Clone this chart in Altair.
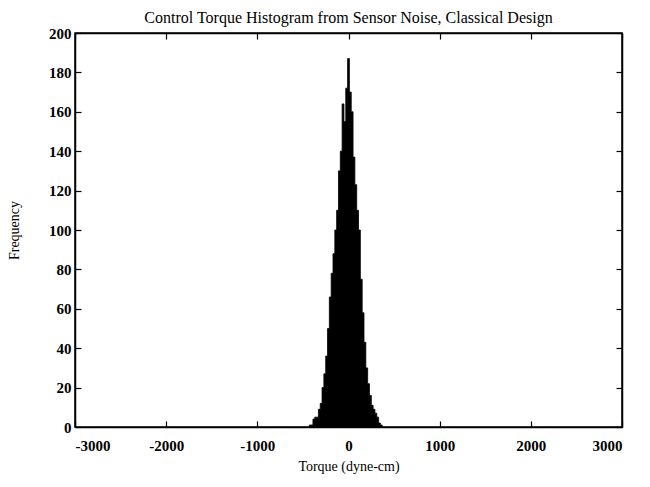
import altair as alt
import pandas as pd

# Histogram bins (torque, dyne-cm): bin starts, bin ends and counts
bin_start = [-430, -410, -390, -370, -350, -330, -310, -290, -270, -250,
             -230, -210, -190, -170, -150, -130, -110, -90, -70, -50,
             -30, -10, 10, 30, 50, 70, 90, 110, 130, 150,
             170, 190, 210, 230, 250, 270, 290, 310, 330, 350]
bin_end = [-410, -390, -370, -350, -330, -310, -290, -270, -250, -230,
           -210, -190, -170, -150, -130, -110, -90, -70, -50, -30,
           -10, 10, 30, 50, 70, 90, 110, 130, 150, 170,
           190, 210, 230, 250, 270, 290, 310, 330, 350, 370]
counts = [1, 1, 4, 5, 5, 9, 12, 20, 27, 36,
          50, 66, 78, 88, 100, 110, 130, 140, 164, 155,
          172, 187, 170, 160, 137, 123, 110, 100, 75, 58,
          43, 30, 22, 16, 11, 9, 7, 5, 2, 1]

x_ticks = [-3000, -2000, -1000, 0, 1000, 2000, 3000]
y_ticks = [0, 20, 40, 60, 80, 100, 120, 140, 160, 180, 200]

# step outline of the histogram: each bin start with its count, closed at the last bin end
step_x = bin_start + [bin_end[-1]]
step_y = counts + [0]
df = pd.DataFrame({"torque": step_x, "count": step_y})

FONT = "Liberation Serif"

x_scale = alt.Scale(domain=[-3000, 3000], nice=False, zero=False)
y_scale = alt.Scale(domain=[0, 200], nice=False)

hist = alt.Chart(df).mark_area(
    interpolate="step-after", color="black", stroke="black", strokeWidth=0.8
).encode(
    x=alt.X("torque:Q", scale=x_scale,
            axis=alt.Axis(values=x_ticks, title="Torque (dyne-cm)",
                          labelExpr="'' + datum.value",
                          tickSize={"expr": "-6"}, labelPadding=17, titlePadding=6)),
    y=alt.Y("count:Q", scale=y_scale,
            axis=alt.Axis(values=y_ticks, title="Frequency",
                          labelExpr="'' + datum.value",
                          tickSize={"expr": "-6"}, labelPadding=10, titlePadding=27)),
)

mirror = alt.Chart(df).mark_point(opacity=0).encode(
    x=alt.X("torque:Q", scale=x_scale,
            axis=alt.Axis(orient="top", values=x_ticks, labels=False, title=None,
                          tickSize={"expr": "-6"})),
    y=alt.Y("count:Q", scale=y_scale,
            axis=alt.Axis(orient="right", values=y_ticks, labels=False, title=None,
                          tickSize={"expr": "-6"})),
)

chart = alt.layer(hist, mirror).resolve_axis(
    x="independent", y="independent"
).properties(
    width=547,
    height=394,
    background="white",
    title=alt.TitleParams("Control Torque Histogram from Sensor Noise, Classical Design",
                          font=FONT, fontSize=16, fontWeight="normal", color="black",
                          offset=0, anchor="middle"),
    autosize=alt.AutoSizeParams(type="none"),
    padding={"left": 67, "top": 25, "right": 20, "bottom": 60},
).configure_axis(
    domainColor="black", domainWidth=1.5, tickColor="black", tickWidth=1.2,
    grid=False, labelFont=FONT, labelFontSize=15, labelFontWeight="bold",
    labelColor="black", titleFont=FONT, titleFontSize=14, titleFontWeight="normal",
    titleColor="black",
).configure_view(stroke="black", strokeWidth=1.5)

chart.save("out.html", embed_options={"renderer": "svg", "actions": False})
